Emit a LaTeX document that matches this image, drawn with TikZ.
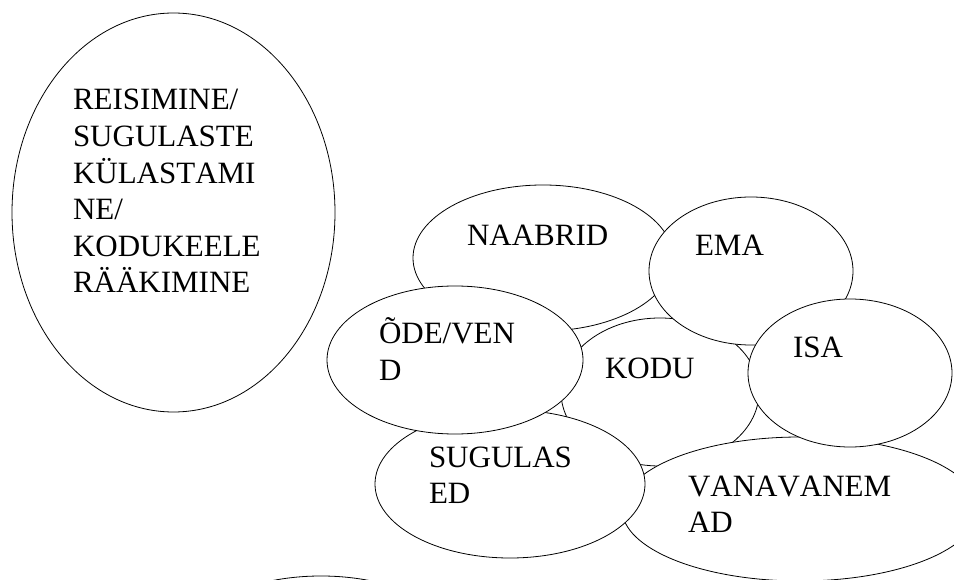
\documentclass[tikz,border=0pt]{standalone}
\usepackage{fontspec}
\setmainfont{Liberation Serif}[Kerning=Off]
\usetikzlibrary{shapes.geometric}

\tikzset{
  bubble/.style={ellipse, draw=black, line width=0.8pt, fill=white,
    inner sep=0pt, outer sep=0pt},
  word/.style={anchor=base west, inner sep=0pt, outer sep=0pt,
    font=\fontsize{31}{37}\selectfont},
}

\begin{document}
\begin{tikzpicture}[x=1pt, y=-1pt]
\useasboundingbox (0,0) rectangle (954,580);
\clip (0,0) rectangle (954,580);

% large bubble on the left
\node[bubble, minimum width=323pt, minimum height=399pt] (travel) at (173.5,212.5) {};
\foreach \txt [count=\i] in {REISIMINE/, SUGULASTE, KÜLASTAMI, NE/, KODUKEELE, RÄÄKIMINE}
  \node[word] (travel-\i) at (73, {110+36.6*(\i-1)}) {\txt};

% cluster of bubbles, back to front
\node[bubble, minimum width=260pt, minimum height=146pt] (naabrid) at (543,258) {};
\node[word] (naabrid-1) at (467,246) {NAABRID};

\node[bubble, minimum width=198pt, minimum height=148pt] (kodu) at (660,392) {};
\node[word] (kodu-1) at (605,378) {KODU};

\node[bubble, minimum width=204pt, minimum height=148pt] (ema) at (751,271) {};
\node[word] (ema-1) at (695,256) {EMA};

\node[bubble, minimum width=356pt, minimum height=144pt] (vanavanemad) at (800,509) {};
\node[word] (vanavanemad-1) at (688,496) {VANAVANEM};
\node[word] (vanavanemad-2) at (688,532) {AD};

\node[bubble, minimum width=204pt, minimum height=148pt] (isa) at (850,373) {};
\node[word] (isa-1) at (793,358) {ISA};

\node[bubble, minimum width=270pt, minimum height=148pt] (sugulased) at (510,484) {};
\node[word] (sugulased-1) at (429,467) {SUGULAS};
\node[word] (sugulased-2) at (429,503) {ED};

\node[bubble, minimum width=256pt, minimum height=148pt] (odevend) at (455,360) {};
\node[word] (odevend-1) at (379,344) {ÕDE/VEN};
\node[word] (odevend-2) at (379,380) {D};

% bubble running off the bottom edge
\node[bubble, minimum width=280pt, minimum height=148pt] (lower) at (321,650) {};
\end{tikzpicture}
\end{document}
